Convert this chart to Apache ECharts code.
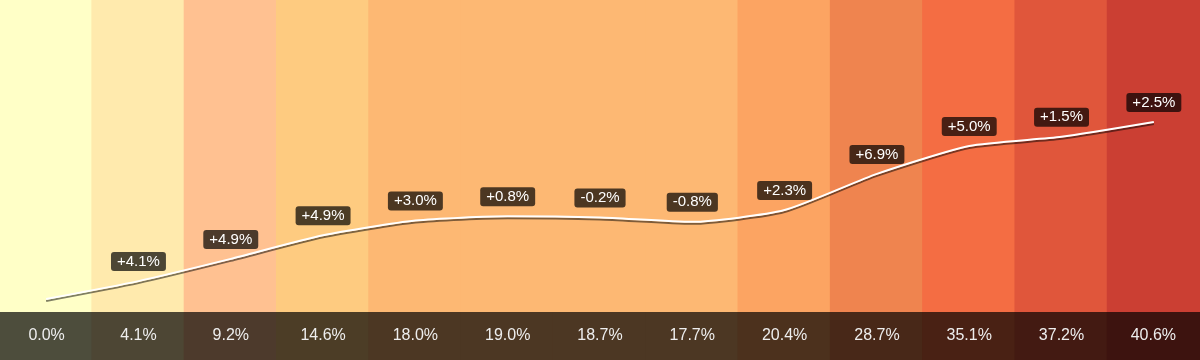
<!DOCTYPE html>
<html>
<head>
<meta charset="utf-8">
<style>
  html, body { margin: 0; padding: 0; background: #fff; }
  #chart { width: 1200px; height: 360px; }
</style>
<script src="https://cdn.jsdelivr.net/npm/echarts@6/dist/echarts.min.js"></script>
</head>
<body>
<div id="chart"></div>
<script>
var periods = ['P1', 'P2', 'P3', 'P4', 'P5', 'P6', 'P7', 'P8', 'P9', 'P10', 'P11', 'P12', 'P13']
var cumulative = [0.0, 4.1, 9.2, 14.6, 18.0, 19.0, 18.7, 17.7, 20.4, 28.7, 35.1, 37.2, 40.6]
// period-over-period change shown in the label above each point
var deltas = [null, 4.1, 4.9, 4.9, 3.0, 0.8, -0.2, -0.8, 2.3, 6.9, 5.0, 1.5, 2.5]
var bandColors = ['#FFFFC7', '#FFEAAD', '#FFC191', '#FECB80', '#FDB873', '#FDB873', '#FDB873',
  '#FDB873', '#FCA462', '#EF844F', '#F46D43', '#E0563B', '#CB3F33']

var font = '"Liberation Sans", Arial, sans-serif'

var chart = echarts.init(document.getElementById('chart'))

function fmtDelta(v) {
  return (v > 0 ? '+' : '') + v.toFixed(1) + '%'
}

// band colour seen through a 70% black overlay
function darken(hex) {
  var n = parseInt(hex.slice(1), 16)
  var r = Math.round(((n >> 16) & 255) * 0.3)
  var g = Math.round(((n >> 8) & 255) * 0.3)
  var b = Math.round((n & 255) * 0.3)
  return 'rgb(' + r + ',' + g + ',' + b + ')'
}

chart.setOption({
  animation: false,
  grid: [
    { left: 0, right: 0, top: 0, bottom: 0 },
    { left: 0, right: 0, bottom: 0, height: 48 }
  ],
  xAxis: [
    { type: 'category', gridIndex: 0, data: periods, show: false },
    { type: 'category', gridIndex: 1, data: periods, show: false }
  ],
  yAxis: [
    { type: 'value', gridIndex: 0, min: -14, max: 68.6, show: false },
    { type: 'value', gridIndex: 0, min: 0, max: 1, show: false },
    { type: 'value', gridIndex: 1, min: 0, max: 1, show: false }
  ],
  series: [
    {
      name: 'bands',
      type: 'bar',
      xAxisIndex: 0,
      yAxisIndex: 1,
      barWidth: '102%',
      silent: true,
      z: 1,
      data: bandColors.map(function(c) {
        return { value: 1, itemStyle: { color: c } }
      })
    },
    {
      name: 'strip',
      type: 'bar',
      xAxisIndex: 1,
      yAxisIndex: 2,
      barWidth: '102%',
      silent: true,
      z: 2,
      label: {
        show: true,
        position: 'inside',
        color: '#eee',
        fontSize: 16,
        fontFamily: font,
        formatter: function(p) {
          return cumulative[p.dataIndex].toFixed(1) + '%'
        }
      },
      data: bandColors.map(function(c) {
        return { value: 1, itemStyle: { color: darken(c) } }
      })
    },
    {
      name: 'growth',
      type: 'line',
      xAxisIndex: 0,
      yAxisIndex: 0,
      z: 5,
      smooth: 0.2,
      symbol: 'circle',
      symbolSize: 2,
      showSymbol: true,
      itemStyle: { color: 'transparent' },
      lineStyle: {
        color: '#fff',
        width: 2,
        shadowColor: 'rgba(0,0,0,0.5)',
        shadowBlur: 0,
        shadowOffsetY: 2
      },
      label: {
        show: true,
        position: 'top',
        distance: 9,
        color: '#fff',
        fontSize: 15,
        fontFamily: font,
        backgroundColor: 'rgba(0,0,0,0.7)',
        padding: [2, 6],
        borderRadius: 3,
        formatter: function(p) {
          return fmtDelta(deltas[p.dataIndex])
        }
      },
      data: cumulative.map(function(v, i) {
        return deltas[i] === null ? { value: v, label: { show: false } } : v
      })
    }
  ]
})
</script>
</body>
</html>
